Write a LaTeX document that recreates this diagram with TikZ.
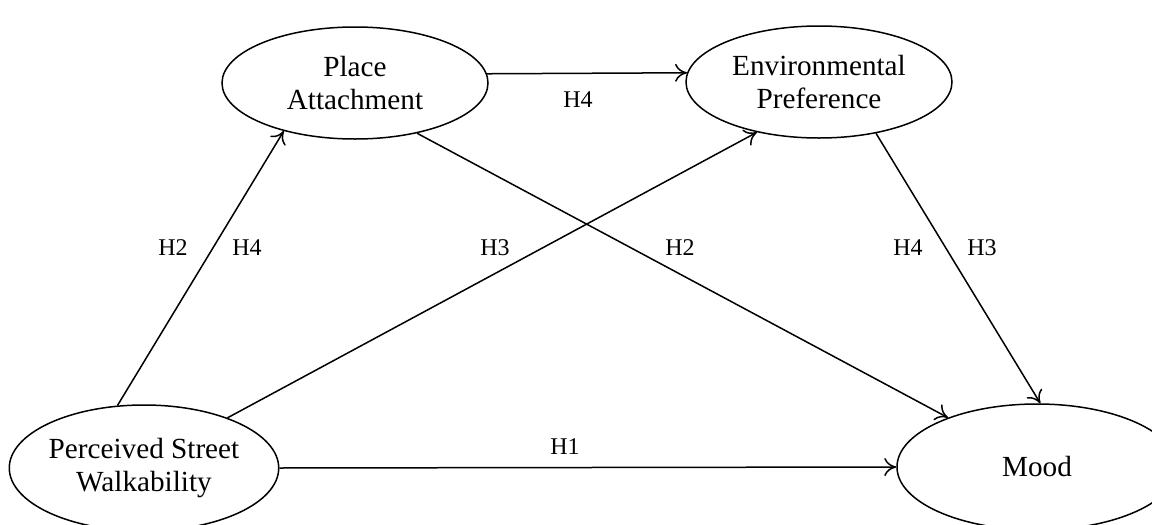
\documentclass[tikz,border=0pt]{standalone}
\usepackage{fontspec}
\setmainfont{Liberation Serif}
\usetikzlibrary{shapes.geometric,arrows.meta}
\begin{document}
\begin{tikzpicture}[x=0.5pt,y=-0.5pt,
  construct/.style={ellipse,draw,line width=0.75pt,inner sep=0pt,align=center,font=\fontsize{14.6}{16.5}\selectfont},
  path/.style={draw,line width=0.75pt,-{To[length=6pt,width=9pt]}},
  hlabel/.style={font=\fontsize{12}{13}\selectfont,inner sep=0pt}]
\useasboundingbox (0,0) rectangle (1152,525);
\node[construct,minimum width=133pt,minimum height=56pt] (pa) at (355,83) {Place\\Attachment};
\node[construct,minimum width=133pt,minimum height=56pt] (ep) at (819,82) {Environmental\\Preference};
\node[construct,minimum width=132.5pt,minimum height=63pt] (psw) at (144,468) {Perceived Street\\Walkability};
\node[construct,minimum width=140pt,minimum height=63pt] (mood) at (1037,467) {Mood};
\draw[path] (psw.113.5) -- (pa.214.4);
\draw[path] (psw.31) -- (ep.219.6);
\draw[path] (psw.0) -- (mood.180);
\draw[path] (pa.4) -- (ep.176);
\draw[path] (pa.-39) -- (mood.151.5);
\draw[path] (ep.318) -- (mood.87);
\node[hlabel] (l1) at (173,248) {H2};
\node[hlabel] (l2) at (247,248) {H4};
\node[hlabel] (l3) at (495,248) {H3};
\node[hlabel] (l4) at (680,248) {H2};
\node[hlabel] (l5) at (908,248) {H4};
\node[hlabel] (l6) at (982,248) {H3};
\node[hlabel] (l7) at (578,100) {H4};
\node[hlabel] (l8) at (565,447) {H1};
\end{tikzpicture}
\end{document}
